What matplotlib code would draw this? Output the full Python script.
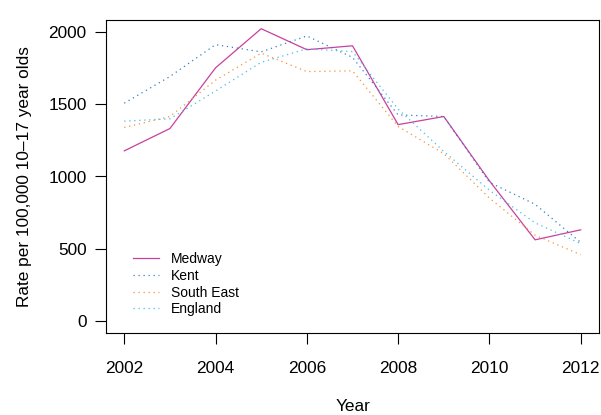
import numpy as np
import matplotlib
matplotlib.use("Agg")
import matplotlib.pyplot as plt

plt.rcParams['font.family'] = ['Liberation Sans', 'DejaVu Sans']

# Rate per 100,000 young people aged 10-17, by year
years = [2002, 2003, 2004, 2005, 2006, 2007, 2008, 2009, 2010, 2011, 2012]
medway = [1177, 1331, 1750, 2020, 1875, 1902, 1358, 1414, 970, 563, 632]
kent = [1506, 1690, 1910, 1860, 1970, 1822, 1425, 1414, 960, 808, 545]
south_east = [1338, 1414, 1665, 1851, 1724, 1729, 1345, 1158, 851, 595, 460]
england = [1382, 1398, 1590, 1788, 1881, 1862, 1465, 1173, 905, 680, 537]

series_names = ['Medway', 'Kent', 'South East', 'England']
series_colors = ['#C8409E', '#2F80C4', '#F59235', '#3FBFEF']

dotted = (0, (1, 3))

fig = plt.figure(figsize=(6.01, 4.15), dpi=100)
ax = fig.add_axes([106 / 601, 1 - 333 / 415, 493 / 601, 313 / 415])

ax.plot(years, medway, color=series_colors[0], lw=0.9, label=series_names[0])
for vals, name, col in zip([kent, south_east, england], series_names[1:], series_colors[1:]):
    ax.plot(years, vals, color=col, lw=0.9, linestyle=dotted, label=name)

ax.set_xlim(2001.6, 2012.4)
ax.set_ylim(-80, 2080)
ax.set_xticks(np.arange(2002, 2013, 2))
ax.set_yticks([0, 500, 1000, 1500, 2000])

for sp in ax.spines.values():
    sp.set_linewidth(0.8)
ax.tick_params(axis='both', direction='out', length=8, width=0.8, labelsize=12.4)
ax.tick_params(axis='x', pad=12)
ax.tick_params(axis='y', pad=6)

ax.set_xlabel('Year', fontsize=12.4, labelpad=17)
ax.set_ylabel('Rate per 100,000 10\u201317 year olds', fontsize=12.4, labelpad=12)

ax.legend(loc='upper left', bbox_to_anchor=(133 / 601, 1 - 252 / 415),
          bbox_transform=fig.transFigure, frameon=False, fontsize=10,
          borderpad=0, borderaxespad=0, handlelength=1.85,
          handletextpad=0.9, labelspacing=0.2)

fig.savefig('out.png', dpi=100)
